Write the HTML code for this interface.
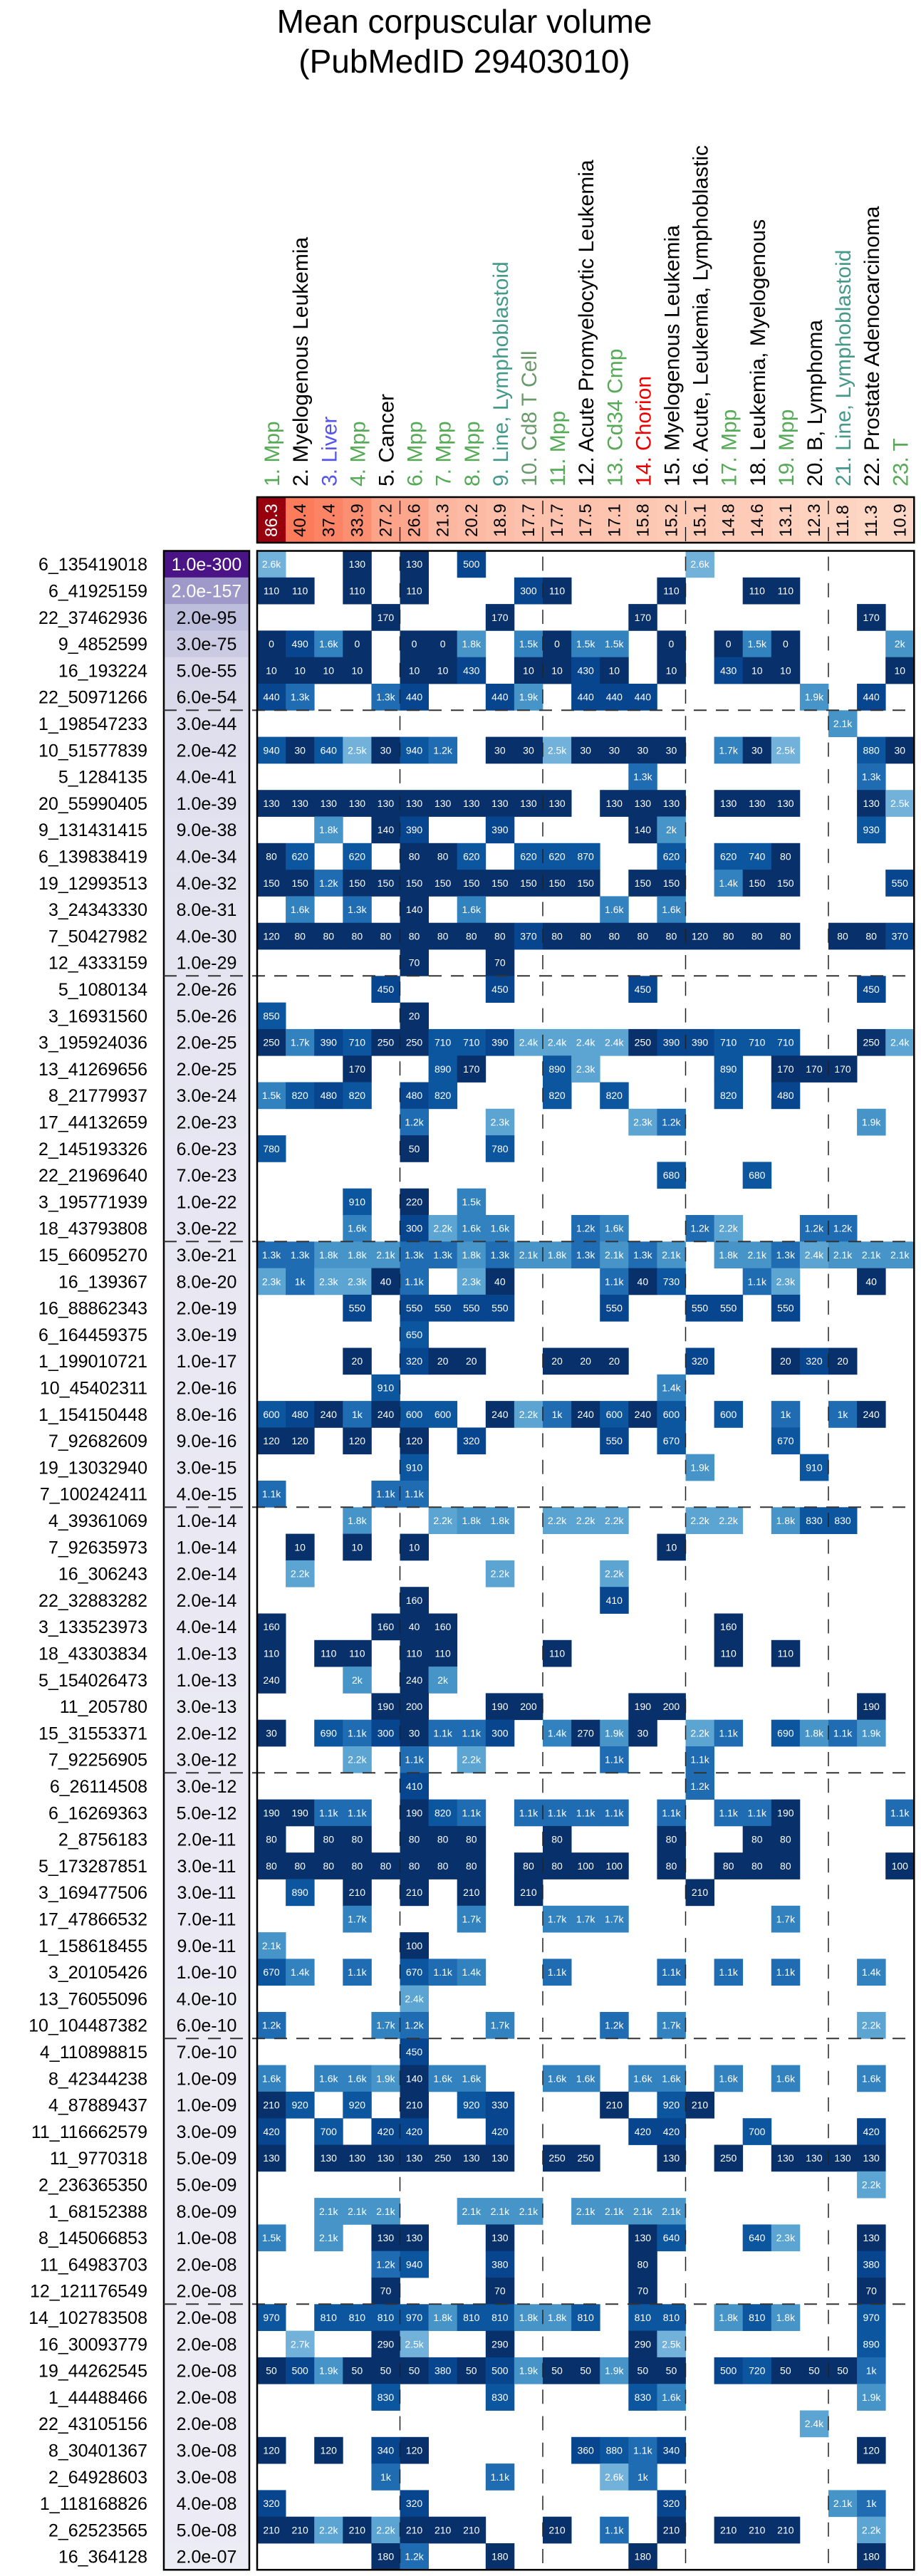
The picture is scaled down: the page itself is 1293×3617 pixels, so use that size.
<!DOCTYPE html>
<html><head><meta charset="utf-8"><title>Mean corpuscular volume</title>
<style>
html,body{margin:0;padding:0;background:#fff;}
svg{display:block;font-family:"Liberation Sans",Arial,sans-serif;}
</style></head>
<body>
<svg id="chart" xmlns="http://www.w3.org/2000/svg" width="1293" height="3617" viewBox="0 0 1293 3617">
<text x="652" y="46" font-size="46" text-anchor="middle">Mean corpuscular volume</text>
<text x="652" y="102" font-size="46" text-anchor="middle">(PubMedID 29403010)</text>
<g id="collabels"></g>
<g id="header"></g>
<g id="rowlabels"></g>
<g id="pbox"></g>
<g id="grid"></g>
</svg>
<script>
const colLabels=["1. Mpp","2. Myelogenous Leukemia","3. Liver","4. Mpp","5. Cancer","6. Mpp","7. Mpp","8. Mpp","9. Line, Lymphoblastoid","10. Cd8 T Cell","11. Mpp","12. Acute Promyelocytic Leukemia","13. Cd34 Cmp","14. Chorion","15. Myelogenous Leukemia","16. Acute, Leukemia, Lymphoblastic","17. Mpp","18. Leukemia, Myelogenous","19. Mpp","20. B, Lymphoma","21. Line, Lymphoblastoid","22. Prostate Adenocarcinoma","23. T"];
const colLabelColors=["#55aa55","#000","#5555ee","#55aa55","#000","#55aa55","#55aa55","#55aa55","#44998a","#6a9a6a","#55aa55","#000","#55aa55","#ee0000","#000","#000","#55aa55","#000","#55aa55","#000","#44998a","#000","#55aa55"];
const headerValues=[86.3,40.4,37.4,33.9,27.2,26.6,21.3,20.2,18.9,17.7,17.7,17.5,17.1,15.8,15.2,15.1,14.8,14.6,13.1,12.3,11.8,11.3,10.9];
const rowLabels=["6_135419018","6_41925159","22_37462936","9_4852599","16_193224","22_50971266","1_198547233","10_51577839","5_1284135","20_55990405","9_131431415","6_139838419","19_12993513","3_24343330","7_50427982","12_4333159","5_1080134","3_16931560","3_195924036","13_41269656","8_21779937","17_44132659","2_145193326","22_21969640","3_195771939","18_43793808","15_66095270","16_139367","16_88862343","6_164459375","1_199010721","10_45402311","1_154150448","7_92682609","19_13032940","7_100242411","4_39361069","7_92635973","16_306243","22_32883282","3_133523973","18_43303834","5_154026473","11_205780","15_31553371","7_92256905","6_26114508","6_16269363","2_8756183","5_173287851","3_169477506","17_47866532","1_158618455","3_20105426","13_76055096","10_104487382","4_110898815","8_42344238","4_87889437","11_116662579","11_9770318","2_236365350","1_68152388","8_145066853","11_64983703","12_121176549","14_102783508","16_30093779","19_44262545","1_44488466","22_43105156","8_30401367","2_64928603","1_118168826","2_62523565","16_364128"];
const pValues=["1.0e-300","2.0e-157","2.0e-95","3.0e-75","5.0e-55","6.0e-54","3.0e-44","2.0e-42","4.0e-41","1.0e-39","9.0e-38","4.0e-34","4.0e-32","8.0e-31","4.0e-30","1.0e-29","2.0e-26","5.0e-26","2.0e-25","2.0e-25","3.0e-24","2.0e-23","6.0e-23","7.0e-23","1.0e-22","3.0e-22","3.0e-21","8.0e-20","2.0e-19","3.0e-19","1.0e-17","2.0e-16","8.0e-16","9.0e-16","3.0e-15","4.0e-15","1.0e-14","1.0e-14","2.0e-14","2.0e-14","4.0e-14","1.0e-13","1.0e-13","3.0e-13","2.0e-12","3.0e-12","3.0e-12","5.0e-12","2.0e-11","3.0e-11","3.0e-11","7.0e-11","9.0e-11","1.0e-10","4.0e-10","6.0e-10","7.0e-10","1.0e-09","1.0e-09","3.0e-09","5.0e-09","5.0e-09","8.0e-09","1.0e-08","2.0e-08","2.0e-08","2.0e-08","2.0e-08","2.0e-08","2.0e-08","2.0e-08","3.0e-08","3.0e-08","4.0e-08","5.0e-08","2.0e-07"];
const cellRows=[
"0:2.6k 3:130 5:130 7:500 15:2.6k",
"0:110 1:110 3:110 5:110 9:300 10:110 14:110 17:110 18:110",
"4:170 8:170 13:170 21:170",
"0:0 1:490 2:1.6k 3:0 5:0 6:0 7:1.8k 9:1.5k 10:0 11:1.5k 12:1.5k 14:0 16:0 17:1.5k 18:0 22:2k",
"0:10 1:10 2:10 3:10 5:10 6:10 7:430 9:10 10:10 11:430 12:10 14:10 16:430 17:10 18:10 22:10",
"0:440 1:1.3k 4:1.3k 5:440 8:440 9:1.9k 11:440 12:440 13:440 19:1.9k 21:440",
"20:2.1k",
"0:940 1:30 2:640 3:2.5k 4:30 5:940 6:1.2k 8:30 9:30 10:2.5k 11:30 12:30 13:30 14:30 16:1.7k 17:30 18:2.5k 21:880 22:30",
"13:1.3k 21:1.3k",
"0:130 1:130 2:130 3:130 4:130 5:130 6:130 7:130 8:130 9:130 10:130 12:130 13:130 14:130 16:130 17:130 18:130 21:130 22:2.5k",
"2:1.8k 4:140 5:390 8:390 13:140 14:2k 21:930",
"0:80 1:620 3:620 5:80 6:80 7:620 9:620 10:620 11:870 14:620 16:620 17:740 18:80",
"0:150 1:150 2:1.2k 3:150 4:150 5:150 6:150 7:150 8:150 9:150 10:150 11:150 13:150 14:150 16:1.4k 17:150 18:150 22:550",
"1:1.6k 3:1.3k 5:140 7:1.6k 12:1.6k 14:1.6k",
"0:120 1:80 2:80 3:80 4:80 5:80 6:80 7:80 8:80 9:370 10:80 11:80 12:80 13:80 14:80 15:120 16:80 17:80 18:80 20:80 21:80 22:370",
"5:70 8:70",
"4:450 8:450 13:450 21:450",
"0:850 5:20",
"0:250 1:1.7k 2:390 3:710 4:250 5:250 6:710 7:710 8:390 9:2.4k 10:2.4k 11:2.4k 12:2.4k 13:250 14:390 15:390 16:710 17:710 18:710 21:250 22:2.4k",
"3:170 6:890 7:170 10:890 11:2.3k 16:890 18:170 19:170 20:170",
"0:1.5k 1:820 2:480 3:820 5:480 6:820 10:820 12:820 16:820 18:480",
"5:1.2k 8:2.3k 13:2.3k 14:1.2k 21:1.9k",
"0:780 5:50 8:780",
"14:680 17:680",
"3:910 5:220 7:1.5k",
"3:1.6k 5:300 6:2.2k 7:1.6k 8:1.6k 11:1.2k 12:1.6k 15:1.2k 16:2.2k 19:1.2k 20:1.2k",
"0:1.3k 1:1.3k 2:1.8k 3:1.8k 4:2.1k 5:1.3k 6:1.3k 7:1.8k 8:1.3k 9:2.1k 10:1.8k 11:1.3k 12:2.1k 13:1.3k 14:2.1k 16:1.8k 17:2.1k 18:1.3k 19:2.4k 20:2.1k 21:2.1k 22:2.1k",
"0:2.3k 1:1k 2:2.3k 3:2.3k 4:40 5:1.1k 7:2.3k 8:40 12:1.1k 13:40 14:730 17:1.1k 18:2.3k 21:40",
"3:550 5:550 6:550 7:550 8:550 12:550 15:550 16:550 18:550",
"5:650",
"3:20 5:320 6:20 7:20 10:20 11:20 12:20 15:320 18:20 19:320 20:20",
"4:910 14:1.4k",
"0:600 1:480 2:240 3:1k 4:240 5:600 6:600 8:240 9:2.2k 10:1k 11:240 12:600 13:240 14:600 16:600 18:1k 20:1k 21:240",
"0:120 1:120 3:120 5:120 7:320 12:550 14:670 18:670",
"5:910 15:1.9k 19:910",
"0:1.1k 4:1.1k 5:1.1k",
"3:1.8k 6:2.2k 7:1.8k 8:1.8k 10:2.2k 11:2.2k 12:2.2k 15:2.2k 16:2.2k 18:1.8k 19:830 20:830",
"1:10 3:10 5:10 14:10",
"1:2.2k 8:2.2k 12:2.2k",
"5:160 12:410",
"0:160 4:160 5:40 6:160 16:160",
"0:110 2:110 3:110 5:110 6:110 10:110 16:110 18:110",
"0:240 3:2k 5:240 6:2k",
"4:190 5:200 8:190 9:200 13:190 14:200 21:190",
"0:30 2:690 3:1.1k 4:300 5:30 6:1.1k 7:1.1k 8:300 10:1.4k 11:270 12:1.9k 13:30 15:2.2k 16:1.1k 18:690 19:1.8k 20:1.1k 21:1.9k",
"3:2.2k 5:1.1k 7:2.2k 12:1.1k 15:1.1k",
"5:410 15:1.2k",
"0:190 1:190 2:1.1k 3:1.1k 5:190 6:820 7:1.1k 9:1.1k 10:1.1k 11:1.1k 12:1.1k 14:1.1k 16:1.1k 17:1.1k 18:190 22:1.1k",
"0:80 2:80 3:80 5:80 6:80 7:80 10:80 14:80 17:80 18:80",
"0:80 1:80 2:80 3:80 4:80 5:80 6:80 7:80 9:80 10:80 11:100 12:100 14:80 16:80 17:80 18:80 22:100",
"1:890 3:210 5:210 7:210 9:210 15:210",
"3:1.7k 7:1.7k 10:1.7k 11:1.7k 12:1.7k 18:1.7k",
"0:2.1k 5:100",
"0:670 1:1.4k 3:1.1k 5:670 6:1.1k 7:1.4k 10:1.1k 14:1.1k 16:1.1k 18:1.1k 21:1.4k",
"5:2.4k",
"0:1.2k 4:1.7k 5:1.2k 8:1.7k 12:1.2k 14:1.7k 21:2.2k",
"5:450",
"0:1.6k 2:1.6k 3:1.6k 4:1.9k 5:140 6:1.6k 7:1.6k 10:1.6k 11:1.6k 13:1.6k 14:1.6k 16:1.6k 18:1.6k 21:1.6k",
"0:210 1:920 3:920 5:210 7:920 8:330 12:210 14:920 15:210",
"0:420 2:700 4:420 5:420 8:420 13:420 14:420 17:700 21:420",
"0:130 2:130 3:130 4:130 5:130 6:250 7:130 8:130 10:250 11:250 14:130 16:250 18:130 19:130 20:130 21:130",
"21:2.2k",
"2:2.1k 3:2.1k 4:2.1k 7:2.1k 8:2.1k 9:2.1k 11:2.1k 12:2.1k 13:2.1k 14:2.1k",
"0:1.5k 2:2.1k 4:130 5:130 8:130 13:130 14:640 17:640 18:2.3k 21:130",
"4:1.2k 5:940 8:380 13:80 21:380",
"4:70 8:70 13:70 21:70",
"0:970 2:810 3:810 4:810 5:970 6:1.8k 7:810 8:810 9:1.8k 10:1.8k 11:810 13:810 14:810 16:1.8k 17:810 18:1.8k 21:970",
"1:2.7k 4:290 5:2.5k 8:290 13:290 14:2.5k 21:890",
"0:50 1:500 2:1.9k 3:50 4:50 5:50 6:380 7:50 8:500 9:1.9k 10:50 11:50 12:1.9k 13:50 14:50 16:500 17:720 18:50 19:50 20:50 21:1k",
"4:830 8:830 13:830 14:1.6k 21:1.9k",
"19:2.4k",
"0:120 2:120 4:340 5:120 11:360 12:880 13:1.1k 14:340 21:120",
"4:1k 8:1.1k 12:2.6k 13:1k",
"0:320 5:320 14:320 20:2.1k 21:1k",
"0:210 1:210 2:2.2k 3:210 4:2.2k 5:210 6:210 7:210 10:210 12:1.1k 14:210 16:210 17:210 18:210 21:2.2k",
"4:180 5:1.2k 8:180 13:180 21:180"
];

const NS="http://www.w3.org/2000/svg";
const GX=361, CW=40.1, GY=773.5, RH=37.3, NCOL=23;
const PX=230, PW=120;
function xOf(c){return GX+c*CW;}
function yOf(r){return GY+r*RH;}
function mk(tag,attrs,parent){const e=document.createElementNS(NS,tag);for(const k in attrs)e.setAttribute(k,attrs[k]);parent.appendChild(e);return e;}
function hex(c){return [1,3,5].map(i=>parseInt(c.substr(i,2),16));}
function lerpC(a,b,t){const A=hex(a),B=hex(b);return "rgb("+A.map((v,i)=>Math.round(v+(B[i]-v)*t)).join(",")+")";}
function parseVal(s){return s.endsWith("k")?parseFloat(s)*1000:parseFloat(s);}
function cellColor(v){
  if(v<300)return "#08306b";
  if(v<600)return "#08458f";
  if(v<1000)return "#0c56a0";
  if(v<1400)return "#1f6cb3";
  if(v<1800)return "#3282bf";
  if(v<2200)return "#4694c8";
  if(v<2500)return "#5ca4d1";
  return "#72b1d9";
}
function headColor(v){
  if(v>60)return "#99000d";
  const t=Math.max(0,Math.min(1,(v-10.9)/(40.4-10.9)));
  return lerpC("#fdd7c5","#fb7b5b",t);
}
function pColor(p){
  const lg=-Math.log10(parseFloat(p));
  const t=Math.min(1,lg/300);
  const stops=[[0,"#efeef6"],[0.15,"#dedeed"],[0.32,"#bcbddc"],[0.52,"#9e9ac8"],[1,"#4a1486"]];
  for(let i=1;i<stops.length;i++){if(t<=stops[i][0]){const a=stops[i-1],b=stops[i];return lerpC(a[1],b[1],(t-a[0])/(b[0]-a[0]));}}
  return "#4a1486";
}

// column labels
const cl=document.getElementById("collabels");
colLabels.forEach((lab,c)=>{
  const cx=xOf(c)+CW/2+11;
  const t=mk("text",{x:cx,y:683,"font-size":30,fill:colLabelColors[c],transform:"rotate(-90 "+cx+" 683)"},cl);
  
  
  t.textContent=lab;
});

// header
const hd=document.getElementById("header");
headerValues.forEach((v,c)=>{
  const r=mk("rect",{x:xOf(c),y:698,width:CW+0.5,height:64,fill:headColor(v)},hd);
  
  
  const cx=xOf(c)+CW/2+8;
  const t=mk("text",{x:cx,y:754,"font-size":24,fill:v>60?"#fff":"#000",transform:"rotate(-90 "+cx+" 754)"},hd);
  
  
  t.textContent=v.toFixed(1);
});
[5,10,15,20].forEach(c=>{
  mk("line",{x1:xOf(c),x2:xOf(c),y1:703,y2:722,stroke:"#000","stroke-width":1.3},hd);
  mk("line",{x1:xOf(c),x2:xOf(c),y1:740,y2:760,stroke:"#000","stroke-width":1.3},hd);
});
mk("rect",{x:GX,y:698,width:NCOL*CW,height:64,fill:"none",stroke:"#000","stroke-width":2.5},hd);

// row labels + p values
const rl=document.getElementById("rowlabels");
const pb=document.getElementById("pbox");
rowLabels.forEach((lab,r)=>{
  const t=mk("text",{x:207,y:yOf(r)+RH/2+9,"font-size":25,"text-anchor":"end",fill:"#000"},rl);
  
  
  t.textContent=lab;
});
pValues.forEach((p,r)=>{
  const col=pColor(p);
  const rc=mk("rect",{x:PX,y:yOf(r),width:PW,height:RH+0.5,fill:col},pb);
  
  
  const lg=-Math.log10(parseFloat(p));
  const t=mk("text",{x:PX+PW/2,y:yOf(r)+RH/2+9,"font-size":25,"text-anchor":"middle",fill:lg>140?"#fff":"#000"},pb);
  
  
  t.textContent=p;
});

// grid cells
const gd=document.getElementById("grid");
cellRows.forEach((row,r)=>{
  row.split(" ").forEach(tok=>{
    if(!tok)return;
    const [cs,vs]=tok.split(":");
    const c=parseInt(cs);const v=parseVal(vs);
    const rc=mk("rect",{x:xOf(c),y:yOf(r),width:CW+0.4,height:RH+0.4,fill:cellColor(v)},gd);
    
    
    const t=mk("text",{x:xOf(c)+CW/2,y:yOf(r)+RH/2+5,"font-size":14,"text-anchor":"middle",fill:"#fff"},gd);
    
    
    t.textContent=vs;
  });
});
const nRows=rowLabels.length;
const gBottom=yOf(nRows);
// vertical dashed separators
[5,10,15,20].forEach(c=>{
  const l=mk("line",{x1:xOf(c),x2:xOf(c),y1:GY,y2:gBottom,stroke:"#222","stroke-width":1.5,"stroke-dasharray":"20 17.3","stroke-dashoffset":"-8"},gd);
  
  
});
// horizontal dashed separators
for(let r=6;r<nRows;r+=10){
  const l=mk("line",{x1:PX,x2:GX+NCOL*CW,y1:yOf(r),y2:yOf(r),stroke:"#333","stroke-width":2,"stroke-dasharray":"18 13"},gd);
  
  
}
mk("rect",{x:GX,y:GY,width:NCOL*CW,height:gBottom-GY,fill:"none",stroke:"#000","stroke-width":2.5},gd);
mk("rect",{x:PX,y:GY,width:PW,height:gBottom-GY,fill:"none",stroke:"#000","stroke-width":2.5},pb);
</script>
</body></html>
